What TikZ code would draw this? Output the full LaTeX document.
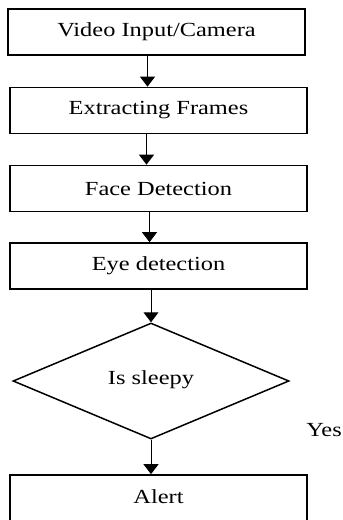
\documentclass[tikz,border=0pt]{standalone}
\usepackage{fontspec}
\setmainfont{Liberation Serif}
\usetikzlibrary{arrows.meta}
\usetikzlibrary{shapes.geometric}
\newcommand{\widetxt}[1]{\scalebox{1.22}[1.0]{#1}}

\begin{document}
\begin{tikzpicture}
    [
    x=1pt, y=-1pt,
    arrow/.style={
        line width=1pt,
        -{Triangle[width=15pt,length=10pt]}
    },
    box/.style={
        draw,
        rectangle,
        line width=1.7pt,
        minimum width=297pt,
        minimum height=46pt,
        font=\fontsize{20}{24}\selectfont
    },
    decision/.style={
        draw,
        diamond,
        line width=1.5pt,
        minimum width=276pt,
        minimum height=116pt,
        inner sep=0pt,
        font=\fontsize{20}{24}\selectfont
    },
    ]
    \useasboundingbox (0,0) rectangle (343,520);
    \clip (0,0) rectangle (343,520);

    \draw (156.5,32) node[box] (video) {\widetxt{Video Input/Camera}};
    \draw (158.5,110.5) node[box] (frames) {\widetxt{Extracting Frames}};
    \draw (158.5,188.5) node[box] (face) {\widetxt{Face Detection}};
    \draw (158.5,266) node[box] (eye) {\widetxt{Eye detection}};
    \draw (151,381) node[decision] (sleepy) {\raisebox{6pt}{\widetxt{Is sleepy}}};
    \draw (158.5,499) node[box, minimum height=48pt] (alert) {\raisebox{4pt}{\widetxt{Alert}}};
    \draw (324,430) node[font=\fontsize{20}{24}\selectfont] (yes) {\widetxt{Yes}};

    \draw [arrow] ([xshift=-9pt]video.south) -- ([xshift=-11pt]frames.north);
    \draw [arrow] ([xshift=-12pt]frames.south) -- ([xshift=-12pt]face.north);
    \draw [arrow] ([xshift=-9pt]face.south) -- ([xshift=-9pt]eye.north);
    \draw [arrow] (sleepy.north |- eye.south) -- (sleepy.north);
    \draw [arrow] (sleepy.south) -- (sleepy.south |- alert.north);

\end{tikzpicture}
\end{document}
